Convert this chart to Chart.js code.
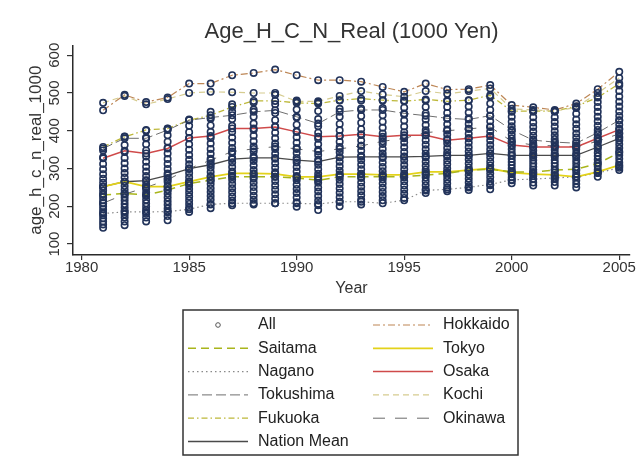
<!DOCTYPE html>
<html>
<head>
<meta charset="utf-8">
<title>Age_H_C_N_Real</title>
<script src="https://cdn.jsdelivr.net/npm/chart.js@4/dist/chart.umd.min.js"></script>
<style>
  body { margin: 0; background: #fff; }
  #wrap { width: 644px; height: 476px; }
</style>
</head>
<body>
<div id="wrap"><canvas id="grafico" width="644" height="476"></canvas></div>
<script>
const years = [1981, 1982, 1983, 1984, 1985, 1986, 1987, 1988, 1989, 1990, 1991, 1992, 1993,
               1994, 1995, 1996, 1997, 1998, 1999, 2000, 2001, 2002, 2003, 2004, 2005];
const xTicks = [1980, 1985, 1990, 1995, 2000, 2005];
const yTicks = [100, 200, 300, 400, 500, 600];

// prefecture lines (1000 yen), 1981..2005
const hokkaido  = [454, 495, 476, 488, 525, 525, 547, 553, 562, 547, 534, 534, 530, 516, 503, 525, 509, 510, 521, 468, 462, 455, 472, 510, 556];
const saitama   = [230, 234, 230, 243, 260, 269, 278, 278, 278, 275, 269, 278, 278, 278, 278, 283, 287, 296, 298, 291, 291, 296, 298, 313, 342];
const tokyo     = [252, 265, 252, 252, 265, 278, 287, 287, 286, 278, 278, 285, 285, 283, 283, 291, 291, 296, 300, 289, 285, 283, 278, 291, 309];
const nagano    = [181, 185, 185, 186, 192, 205, 208, 208, 208, 208, 206, 212, 212, 208, 216, 242, 245, 250, 258, 270, 272, 275, 278, 288, 302];
const osaka     = [327, 347, 340, 353, 381, 386, 406, 406, 410, 397, 384, 386, 391, 384, 388, 388, 375, 380, 386, 362, 357, 357, 357, 380, 403];
const tokushima = [353, 380, 380, 402, 428, 435, 441, 450, 454, 437, 419, 450, 455, 455, 446, 440, 433, 430, 440, 402, 375, 370, 367, 395, 428];
const kochi     = [474, 492, 470, 484, 500, 503, 502, 500, 500, 478, 478, 492, 505, 496, 490, 505, 498, 505, 512, 458, 455, 452, 462, 500, 540];
const fukuoka   = [357, 384, 402, 406, 428, 441, 463, 479, 479, 474, 472, 481, 485, 481, 478, 483, 478, 481, 494, 452, 452, 452, 465, 488, 525];
const okinawa   = [208, 232, 250, 270, 300, 322, 345, 352, 358, 352, 345, 352, 360, 372, 380, 395, 400, 405, 410, 372, 362, 360, 358, 372, 392];
const nationMean = [252, 265, 268, 282, 300, 310, 325, 328, 328, 322, 318, 330, 331, 331, 331, 332, 335, 335, 340, 335, 335, 335, 335, 357, 380];

// remaining prefectures, one row per year
const otherPrefs = [
  [143, 152, 160, 168, 176, 184, 192, 200, 208, 216, 224, 233, 242, 252, 262, 273, 285, 298, 312, 330, 348],
  [150, 160, 170, 179, 188, 197, 206, 215, 224, 234, 244, 254, 265, 276, 288, 300, 314, 328, 344, 362, 385],
  [160, 170, 180, 190, 199, 208, 217, 227, 237, 247, 258, 269, 280, 292, 305, 318, 332, 348, 364, 382, 400],
  [163, 174, 184, 194, 204, 213, 223, 233, 243, 253, 264, 275, 287, 299, 312, 325, 340, 355, 371, 388, 405],
  [185, 196, 206, 216, 226, 236, 246, 256, 266, 277, 288, 299, 311, 323, 336, 350, 364, 380, 396, 413, 430],
  [195, 206, 217, 227, 238, 248, 259, 269, 280, 291, 302, 314, 326, 339, 352, 366, 381, 397, 414, 432, 450],
  [203, 215, 226, 237, 248, 259, 270, 281, 292, 304, 316, 328, 341, 354, 368, 382, 397, 413, 431, 450, 470],
  [205, 217, 228, 240, 251, 262, 273, 285, 296, 308, 320, 332, 345, 358, 372, 387, 402, 419, 437, 456, 475],
  [208, 220, 232, 244, 255, 267, 278, 290, 302, 314, 326, 339, 352, 366, 380, 395, 411, 428, 447, 470, 495],
  [199, 211, 223, 235, 246, 257, 269, 280, 292, 304, 316, 328, 341, 354, 368, 383, 399, 416, 435, 456, 480],
  [190, 203, 215, 227, 239, 250, 262, 274, 286, 298, 310, 323, 336, 350, 364, 379, 395, 412, 431, 452, 475],
  [200, 212, 224, 236, 247, 259, 270, 282, 294, 306, 318, 330, 343, 357, 371, 386, 401, 418, 437, 458, 480],
  [205, 217, 229, 240, 252, 263, 275, 286, 298, 310, 322, 334, 347, 360, 374, 389, 404, 421, 439, 459, 480],
  [216, 227, 238, 249, 260, 271, 282, 293, 304, 316, 328, 340, 352, 365, 379, 393, 408, 424, 441, 460, 480],
  [222, 233, 244, 255, 266, 276, 287, 298, 309, 321, 332, 344, 356, 369, 382, 396, 411, 427, 443, 461, 480],
  [235, 245, 256, 266, 276, 286, 297, 307, 318, 329, 340, 351, 363, 375, 388, 401, 415, 430, 446, 463, 480],
  [240, 250, 260, 270, 280, 290, 300, 311, 321, 332, 343, 354, 366, 378, 390, 403, 417, 432, 447, 463, 480],
  [243, 253, 263, 273, 283, 293, 303, 313, 324, 334, 345, 356, 368, 380, 392, 405, 418, 433, 448, 464, 480],
  [245, 256, 266, 277, 287, 297, 308, 318, 329, 340, 351, 362, 374, 386, 398, 411, 425, 440, 455, 472, 490],
  [261, 269, 277, 285, 293, 301, 309, 317, 325, 334, 342, 351, 360, 370, 380, 390, 401, 412, 424, 437, 450],
  [255, 263, 272, 280, 288, 297, 305, 313, 322, 330, 339, 348, 357, 367, 377, 387, 398, 410, 422, 436, 450],
  [255, 264, 272, 281, 289, 297, 306, 314, 322, 331, 340, 349, 358, 368, 378, 388, 399, 411, 423, 436, 450],
  [250, 259, 268, 277, 286, 295, 304, 313, 322, 331, 341, 351, 361, 371, 382, 393, 405, 417, 430, 445, 460],
  [278, 288, 297, 306, 315, 324, 333, 342, 352, 361, 371, 381, 391, 402, 413, 425, 437, 450, 463, 476, 490],
  [296, 306, 316, 326, 335, 345, 354, 364, 374, 384, 394, 405, 416, 427, 439, 451, 464, 477, 491, 505, 520]
];

const fuente = '"Liberation Sans", Arial, sans-serif';

function puntos(vals) {
  return vals.map((v, i) => ({ x: years[i], y: v }));
}

let todos = [];
otherPrefs.forEach((col, i) => col.forEach(v => todos.push({ x: years[i], y: v })));
[hokkaido, saitama, tokyo, nagano, osaka, tokushima, kochi, fukuoka, okinawa, nationMean]
  .forEach(s => { todos = todos.concat(puntos(s)); });

function linea(label, vals, color, dash, width) {
  return {
    type: 'line',
    label: label,
    data: puntos(vals),
    borderColor: color,
    borderDash: dash,
    borderWidth: width,
    pointRadius: 0,
    fill: false,
    tension: 0,
    order: 1
  };
}

// legend order is row-major, two columns
const datasets = [
  {
    label: 'All',
    data: todos,
    showLine: false,
    pointStyle: 'circle',
    pointRadius: 3.2,
    pointBorderWidth: 1.6,
    borderColor: '#22335a',
    backgroundColor: 'rgba(0,0,0,0)',
    order: 0
  },
  linea('Hokkaido', hokkaido, '#bd8655', [7, 3, 2, 3], 1.2),
  linea('Saitama', saitama, '#a9b51c', [8, 5], 1.5),
  linea('Tokyo', tokyo, '#e3d21a', [], 1.8),
  linea('Nagano', nagano, '#8a8a8a', [1.5, 3], 1.2),
  linea('Osaka', osaka, '#cf4a4a', [], 1.5),
  linea('Tokushima', tokushima, '#6e6e6e', [10, 4], 1),
  linea('Kochi', kochi, '#d6cc90', [6, 4], 1.2),
  linea('Fukuoka', fukuoka, '#bdb83a', [6, 3, 1.5, 3], 1.3),
  linea('Okinawa', okinawa, '#6a6a6a', [12, 10], 1),
  linea('Nation Mean', nationMean, '#4a4a4a', [], 1.3)
];

const leyenda = {
  id: 'leyenda',
  afterDraw(chart) {
    const ctx = chart.ctx;
    ctx.save();
    ctx.strokeStyle = '#333';
    ctx.lineWidth = 1.5;
    ctx.strokeRect(183, 310, 335, 145);
    ctx.font = '16px ' + fuente;
    ctx.textBaseline = 'middle';
    chart.data.datasets.forEach((ds, i) => {
      const col = i % 2;
      const row = Math.floor(i / 2);
      const y = 325 + row * 23.3;
      const x0 = col ? 373 : 188;
      if (ds.showLine === false) {
        ctx.beginPath();
        ctx.setLineDash([]);
        ctx.lineWidth = 1;
        ctx.strokeStyle = '#555';
        ctx.arc(x0 + 30, y, 2.3, 0, Math.PI * 2);
        ctx.stroke();
      } else {
        ctx.beginPath();
        ctx.setLineDash(ds.borderDash);
        ctx.lineWidth = ds.borderWidth;
        ctx.strokeStyle = ds.borderColor;
        ctx.moveTo(x0, y);
        ctx.lineTo(x0 + 60, y);
        ctx.stroke();
      }
      ctx.fillStyle = '#222';
      ctx.fillText(ds.label, x0 + 70, y);
    });
    ctx.restore();
  }
};

const ctx = document.getElementById('grafico').getContext('2d');
const chart = new Chart(ctx, {
  type: 'scatter',
  data: { datasets: datasets },
  plugins: [leyenda],
  options: {
    responsive: false,
    animation: false,
    layout: { padding: { left: 0, right: 14, top: 0, bottom: 176 } },
    plugins: {
      legend: { display: false },
      tooltip: { enabled: false },
      title: {
        display: true,
        text: 'Age_H_C_N_Real (1000 Yen)',
        fullSize: false,
        color: '#333',
        font: { family: fuente, size: 22, weight: 'normal' },
        padding: { top: 19, bottom: 0 }
      }
    },
    scales: {
      x: {
        type: 'linear',
        min: 1979.6,
        max: 2005.5,
        afterFit(s) { s.height = 45; },
        afterBuildTicks(s) { s.ticks = xTicks.map(v => ({ value: v })); },
        grid: { drawOnChartArea: false, drawTicks: true, tickLength: 5, color: '#333', lineWidth: 1.2 },
        border: { display: true, color: '#2a2a2a', width: 1.5 },
        ticks: {
          color: '#333',
          padding: -1,
          maxRotation: 0,
          autoSkip: false,
          font: { family: fuente, size: 15 },
          callback: v => String(v)
        },
        title: {
          display: true,
          text: 'Year',
          color: '#333',
          font: { family: fuente, size: 16 },
          padding: { top: 0, bottom: 2 }
        }
      },
      y: {
        type: 'linear',
        min: 71,
        max: 626,
        afterFit(s) { s.width = 73; },
        afterBuildTicks(s) { s.ticks = yTicks.map(v => ({ value: v })); },
        grid: { drawOnChartArea: false, drawTicks: true, tickLength: 6, color: '#333', lineWidth: 1.2 },
        border: { display: true, color: '#2a2a2a', width: 1.5 },
        ticks: {
          color: '#333',
          minRotation: 90,
          maxRotation: 90,
          crossAlign: 'center',
          padding: 0,
          autoSkip: false,
          font: { family: fuente, size: 15 }
        },
        title: {
          display: true,
          text: 'age_h_c_n_real_1000',
          color: '#333',
          font: { family: fuente, size: 17 },
          padding: { top: 26, bottom: 0 }
        }
      }
    }
  }
});
</script>
</body>
</html>
